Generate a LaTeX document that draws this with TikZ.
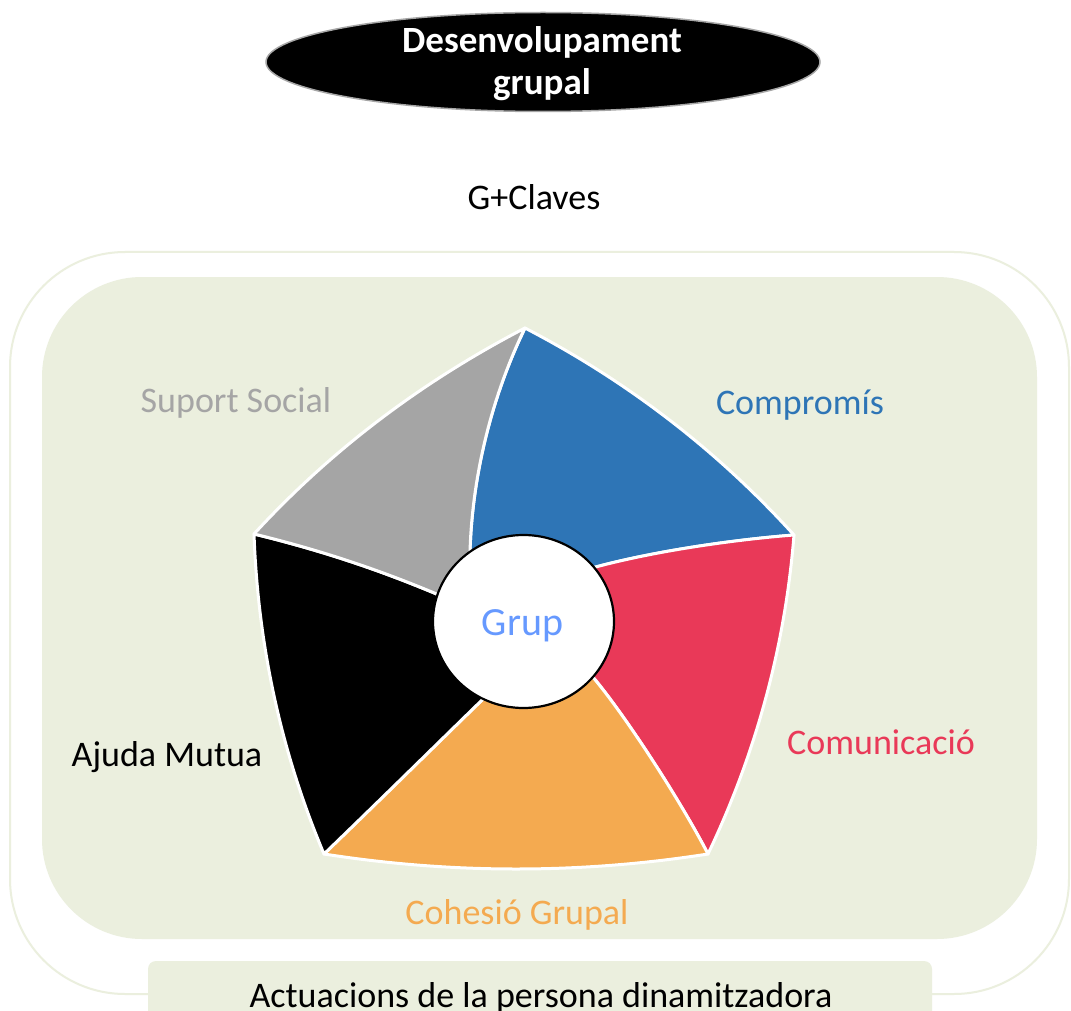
\documentclass[tikz,border=0pt]{standalone}
\usepackage{fontspec}
\setmainfont{Carlito}
\usetikzlibrary{shapes.geometric}
\definecolor{bgg}{RGB}{235,239,222}
\definecolor{cblue}{RGB}{46,117,182}
\definecolor{cred}{RGB}{233,57,88}
\definecolor{corange}{RGB}{244,170,80}
\definecolor{cgrey}{RGB}{165,165,165}
\definecolor{cgrup}{RGB}{102,153,255}
\begin{document}
\begin{tikzpicture}[x=1pt,y=-1pt,
  lbl/.style={font=\fontsize{36}{43}\selectfont, inner sep=0pt},
  seg/.style={draw=white, line width=3pt, line join=round}]
\useasboundingbox (0,0) rectangle (1071,1011);
\clip (0,0) rectangle (1071,1011);
\fill[white] (0,0) rectangle (1071,1011);
% frames
\draw[bgg, line width=2pt, rounded corners=115pt] (10,252) rectangle (1069,994);
\fill[bgg, rounded corners=100pt] (42,277) rectangle (1037,939);
\fill[bgg, rounded corners=8pt] (148,961) rectangle (932,1040);
% title
\node[ellipse, fill=black, draw=gray!70, line width=1.5pt, minimum width=554pt, minimum height=99pt, inner sep=0pt] (title) at (543,62) {};
\node[text=white, align=center, anchor=base, font=\fontsize{37}{42}\selectfont\bfseries, inner sep=0pt] (titletext) at (542,95) {Desenvolupament\\grupal};
\node[lbl] (gc) at (534,197) {G+Claves};
% pentagon vertices and circle points
\coordinate (c) at (523,622);
\coordinate (v0) at (525,328);
\coordinate (v1) at (794,535);
\coordinate (v2) at (708,854);
\coordinate (v3) at (324,854);
\coordinate (v4) at (254,534);
\coordinate (p0) at (470,552);
\coordinate (p1) at (592,568);
\coordinate (p2) at (592,676);
\coordinate (p3) at (482,700);
\coordinate (p4) at (439,595);
% segments
\filldraw[seg, fill=cblue] (p0) .. controls (472,480) and (490,400) .. (v0)
  .. controls (627,381) and (717,450) .. (v1)
  .. controls (730,540) and (650,552) .. (p1) -- (c) -- cycle;
\filldraw[seg, fill=cred] (p1) .. controls (650,552) and (730,540) .. (v1)
  .. controls (785,647) and (756,753) .. (v2)
  .. controls (680,800) and (625,715) .. (p2) -- (c) -- cycle;
\filldraw[seg, fill=corange] (p2) .. controls (625,715) and (680,800) .. (v2)
  .. controls (580,874) and (452,874) .. (v3)
  .. controls (380,800) and (445,736) .. (p3) -- (c) -- cycle;
\filldraw[seg, fill=black] (p3) .. controls (445,736) and (380,800) .. (v3)
  .. controls (281,752) and (258,645) .. (v4)
  .. controls (320,550) and (380,570) .. (p4) -- (c) -- cycle;
\filldraw[seg, fill=cgrey] (p4) .. controls (380,570) and (320,550) .. (v4)
  .. controls (332,449) and (423,381) .. (v0)
  .. controls (490,400) and (472,480) .. (p0) -- (c) -- cycle;
% centre
\node[ellipse, draw=black, fill=white, line width=2.2pt, minimum width=181pt, minimum height=173pt, inner sep=0pt] (grupcircle) at (523.5,621.5) {};
\node[text=cgrup, anchor=base, inner sep=0pt, font=\fontsize{40}{48}\selectfont] (grup) at (522.5,635) {Grup};
% labels
\node[lbl, text=cgrey] (ss) at (236,403) {Suport Social};
\node[lbl, text=cblue] (cp) at (800,405) {Compromís};
\node[lbl, text=cred] (cm) at (881,742) {Comunicació};
\node[lbl] (am) at (167,757) {Ajuda Mutua};
\node[lbl, text=corange] (ch) at (517,915) {Cohesió Grupal};
\node[lbl, anchor=base] (act) at (541,1007) {Actuacions de la persona dinamitzadora};
\end{tikzpicture}
\end{document}
